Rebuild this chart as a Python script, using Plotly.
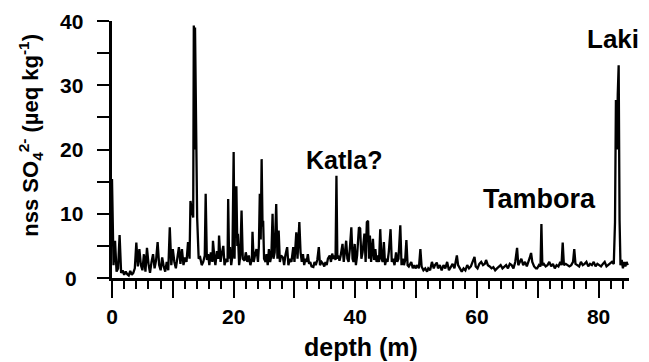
import plotly.graph_objects as go

# depth (m) and nss SO4 2- (ueq/kg)
depth_m = [
    0, 0.25, 0.5, 0.75, 1.0, 1.25, 1.5, 1.75, 2.0, 2.25, 2.5, 2.75, 3.0, 3.25, 3.5, 3.75, 4.0, 4.25, 4.5, 4.75,
    5.0, 5.25, 5.5, 5.75, 6.0, 6.25, 6.5, 6.75, 7.0, 7.25, 7.5, 7.75, 8.0, 8.25, 8.5, 8.75, 9.0, 9.25, 9.5, 9.75,
    10.0, 10.25, 10.5, 10.75, 11.0, 11.25, 11.5, 11.75, 12.0, 12.25, 12.5, 12.75, 12.9, 13.1, 13.35, 13.45, 13.55, 13.65, 13.8, 14.0, 14.25, 14.5, 14.75,
    15.0, 15.25, 15.4, 15.6, 15.8, 16.0, 16.25, 16.5, 16.6, 16.85, 17.0, 17.25, 17.5, 17.6, 17.85, 18.0, 18.3, 18.5, 18.75, 19.0, 19.1, 19.25, 19.4, 19.6, 19.8,
    20.0, 20.15, 20.3, 20.45, 20.6, 20.7, 20.9, 21.1, 21.3, 21.5, 21.8, 22.0, 22.25, 22.5, 22.75, 23.0, 23.1, 23.3, 23.5, 23.75, 24.0, 24.15, 24.3, 24.45, 24.6, 24.75, 24.85,
    25.0, 25.25, 25.4, 25.6, 25.8, 26.0, 26.2, 26.4, 26.55, 26.75, 27.0, 27.2, 27.4, 27.6, 27.8, 28.1, 28.3, 28.5, 28.8, 29.0, 29.25, 29.5, 29.8,
    30.0, 30.3, 30.5, 30.8, 31.0, 31.2, 31.4, 31.6, 31.8, 32.0, 32.2, 32.4, 32.6, 32.8, 33.1, 33.3, 33.5, 33.75, 34.0, 34.2, 34.45, 34.7, 34.9,
    35.1, 35.3, 35.5, 35.8, 36.0, 36.2, 36.4, 36.6, 36.75, 36.9, 37.05, 37.2, 37.4, 37.6, 37.9, 38.1, 38.3, 38.5, 38.7, 38.9, 39.1, 39.35, 39.55, 39.7, 39.9,
    40.1, 40.3, 40.6, 40.8, 41.0, 41.2, 41.5, 41.7, 41.9, 42.1, 42.25, 42.4, 42.6, 42.9, 43.1, 43.3, 43.5, 43.7, 43.9, 44.1, 44.3, 44.5, 44.7, 44.9,
    45.1, 45.3, 45.5, 45.8, 46.0, 46.2, 46.45, 46.7, 46.9, 47.1, 47.4, 47.6, 47.8, 48.0, 48.2, 48.4, 48.6, 48.8, 49.0, 49.2, 49.45, 49.7, 49.9,
    50.2, 50.45, 50.7, 50.9, 51.2, 51.5, 51.8, 52.0, 52.3, 52.6, 52.9, 53.1, 53.4, 53.6, 53.9, 54.2, 54.5, 54.8,
    55.1, 55.4, 55.7, 56.0, 56.3, 56.5, 56.7, 56.9, 57.2, 57.5, 57.8, 58.1, 58.4, 58.7, 59.0, 59.3, 59.6, 59.8,
    60.1, 60.4, 60.7, 61.0, 61.3, 61.5, 61.8, 62.1, 62.4, 62.7, 63.0, 63.3, 63.6, 63.9, 64.2, 64.5, 64.8,
    65.1, 65.4, 65.7, 66.0, 66.3, 66.6, 66.8, 67.0, 67.3, 67.6, 67.9, 68.2, 68.5, 68.7, 68.9, 69.1, 69.4, 69.7, 69.9,
    70.2, 70.45, 70.6, 70.75, 71.0, 71.3, 71.6, 71.9, 72.2, 72.5, 72.8, 73.1, 73.4, 73.7, 73.9, 74.1, 74.3, 74.6, 74.9,
    75.2, 75.5, 75.8, 76.0, 76.2, 76.5, 76.8, 77.1, 77.4, 77.7, 78.0, 78.3, 78.6, 78.9, 79.2, 79.5, 79.8,
    80.1, 80.4, 80.7, 81.0, 81.3, 81.6, 81.9, 82.2, 82.5, 82.7, 82.85, 83.0, 83.15, 83.3, 83.45, 83.6, 83.8, 84.0, 84.2, 84.4, 84.6, 84.8,
]
nss_so4 = [
    15.4, 2.0, 5.8, 1.0, 1.5, 6.7, 0.8, 1.2, 0.5, 1.0, 0.6, 0.4, 1.1, 0.5, 0.8, 1.5, 5.5, 1.8, 4.5, 2.0,
    1.2, 3.7, 1.0, 4.7, 2.2, 0.8, 2.5, 3.7, 1.5, 2.8, 5.6, 2.0, 1.2, 3.2, 1.8, 1.0, 2.5, 1.2, 7.9, 2.0,
    4.5, 2.5, 1.5, 3.0, 4.8, 2.2, 4.5, 2.0, 3.2, 2.5, 5.6, 3.0, 12.0, 10.7, 9.4, 39.3, 20.0, 39.0, 25.3, 9.4, 3.0, 3.2, 2.0,
    2.5, 3.5, 13.1, 2.8, 3.7, 2.0, 4.0, 2.5, 5.8, 3.0, 2.0, 4.2, 3.0, 6.6, 2.5, 3.5, 5.0, 2.0, 3.0, 2.5, 12.3, 3.0, 4.8, 2.0, 3.5,
    19.6, 3.0, 14.1, 14.1, 5.0, 6.9, 2.0, 3.5, 10.5, 3.0, 2.7, 4.0, 2.5, 3.5, 2.0, 3.0, 7.2, 2.5, 3.5, 4.5, 2.5, 5.0, 13.1, 6.0, 18.5, 8.0, 8.9,
    3.0, 2.5, 3.7, 2.0, 4.5, 2.5, 3.5, 10.0, 3.0, 4.0, 11.5, 3.0, 7.4, 2.5, 3.5, 3.2, 2.0, 3.5, 4.8, 2.0, 3.0, 2.5, 4.8,
    2.5, 7.1, 3.0, 8.7, 4.0, 2.5, 3.7, 2.0, 3.0, 2.5, 3.7, 2.2, 2.5, 1.8, 1.7, 2.5, 2.0, 2.8, 4.8, 2.0, 2.5, 2.2, 1.8,
    2.5, 2.0, 3.0, 3.5, 2.5, 3.8, 3.0, 3.5, 2.8, 15.9, 3.0, 3.5, 2.7, 3.5, 5.3, 2.5, 4.0, 5.8, 3.0, 2.5, 4.5, 7.9, 3.0, 2.5, 5.3,
    2.0, 3.5, 7.9, 7.7, 3.0, 4.0, 6.9, 2.5, 8.7, 8.9, 3.0, 6.6, 2.5, 6.1, 2.8, 4.5, 2.5, 3.5, 2.5, 7.6, 3.0, 2.5, 5.6, 2.0,
    3.0, 2.5, 4.0, 7.6, 2.5, 3.0, 2.0, 4.0, 2.5, 3.0, 8.2, 2.0, 3.0, 2.0, 2.8, 5.9, 2.0, 1.8, 2.2, 2.5, 1.5, 2.0, 1.5,
    2.0, 1.5, 4.5, 1.8, 1.2, 1.5, 1.0, 1.5, 1.2, 2.5, 1.5, 2.0, 2.4, 1.5, 2.0, 1.2, 2.0, 1.5,
    2.5, 1.2, 1.8, 2.2, 1.5, 2.5, 3.5, 2.0, 1.5, 1.0, 1.5, 1.2, 2.0, 1.5, 1.8, 2.5, 3.3, 1.8,
    1.5, 2.2, 2.5, 2.0, 2.2, 2.8, 2.0, 1.8, 1.5, 1.7, 1.2, 1.5, 1.8, 2.0, 1.5, 1.8, 2.0,
    1.5, 2.2, 2.0, 1.5, 2.5, 4.7, 2.0, 2.5, 3.0, 2.0, 2.5, 1.8, 2.5, 3.2, 3.9, 2.5, 1.8, 1.5, 1.5,
    2.0, 1.8, 8.4, 2.0, 2.2, 1.8, 2.0, 2.5, 1.8, 2.2, 1.5, 2.0, 1.8, 2.5, 2.0, 5.5, 2.0, 2.2, 2.0,
    1.8, 2.0, 2.5, 4.5, 2.2, 2.0, 1.8, 2.5, 2.0, 2.2, 2.5, 1.8, 2.2, 2.0, 2.5, 1.8, 2.2,
    2.0, 1.8, 2.2, 2.5, 1.8, 2.0, 2.2, 2.5, 2.2, 8.7, 27.7, 20.0, 28.5, 33.1, 9.0, 2.0, 2.8, 1.5, 2.5, 1.8, 2.5, 2.0,
]

x_major_ticks = [0, 10, 20, 30, 40, 50, 60, 70, 80]
x_major_labels = ["0", "", "20", "", "40", "", "60", "", "80"]
x_minor_ticks = [2, 4, 6, 8, 12, 14, 16, 18, 22, 24, 26, 28, 32, 34, 36, 38, 42, 44, 46, 48,
                 52, 54, 56, 58, 62, 64, 66, 68, 72, 74, 76, 78, 82, 84]
y_major_ticks = [0, 10, 20, 30, 40]
y_minor_ticks = [5, 15, 25, 35]

event_names = ["Katla?", "Tambora", "Laki"]
event_x = [38.2, 70.3, 82.3]
event_y = [18.4, 12.3, 37.2]
event_size = [25, 27, 26]

FONT = "Liberation Sans, Arial, Helvetica, sans-serif"
W = "bold"

fig = go.Figure()
fig.add_trace(go.Scatter(x=depth_m, y=nss_so4, mode="lines",
                         line=dict(color="black", width=2.3), hoverinfo="skip",
                         showlegend=False))

fig.update_xaxes(range=[0, 85], showline=True, linecolor="black", linewidth=2.5,
                 ticks="outside", tickvals=x_major_ticks, ticktext=x_major_labels,
                 ticklen=17, tickwidth=2, tickcolor="black",
                 minor=dict(tickvals=x_minor_ticks, ticks="outside", ticklen=8,
                            tickwidth=2, tickcolor="black"),
                 showgrid=False, zeroline=False,
                 tickfont=dict(family=FONT, size=21, color="black", weight=W),
                 ticklabelstandoff=1)
fig.update_yaxes(range=[0, 40], showline=True, linecolor="black", linewidth=2.5,
                 ticks="outside", tickvals=y_major_ticks, showticklabels=False,
                 ticklen=12, tickwidth=2, tickcolor="black",
                 minor=dict(tickvals=y_minor_ticks, ticks="outside", ticklen=12,
                            tickwidth=2, tickcolor="black"),
                 showgrid=False, zeroline=False)

# plot area: 104..621 px wide (517), 13..270 px tall (257) inside a 641x354 figure
annotations = []
for v in y_major_ticks:
    annotations.append(dict(x=-0.079, xref="paper", y=v, yref="y", text=str(v),
                            showarrow=False, xanchor="center", yanchor="middle",
                            font=dict(family=FONT, size=21, color="black", weight=W)))
for name, ex, ey, fs in zip(event_names, event_x, event_y, event_size):
    annotations.append(dict(x=ex, y=ey, xref="x", yref="y", text=name, showarrow=False,
                            xanchor="center", yanchor="middle",
                            font=dict(family=FONT, size=fs, color="black", weight=W)))
annotations.append(dict(x=0.482, xref="paper", y=-0.268, yref="paper", text="depth (m)",
                        showarrow=False, xanchor="center", yanchor="middle",
                        font=dict(family=FONT, size=25, color="black", weight=W)))
annotations.append(dict(x=-0.158, xref="paper", y=0.555, yref="paper",
                        text="nss SO<sub>4</sub><sup>2-</sup> (µeq kg<sup>-1</sup>)",
                        textangle=-90, showarrow=False, xanchor="center", yanchor="middle",
                        font=dict(family=FONT, size=22, color="black", weight=W)))

fig.update_layout(width=641, height=354, margin=dict(l=104, r=20, t=13, b=84),
                  paper_bgcolor="white", plot_bgcolor="white",
                  annotations=annotations)

fig.write_html("out.html")
